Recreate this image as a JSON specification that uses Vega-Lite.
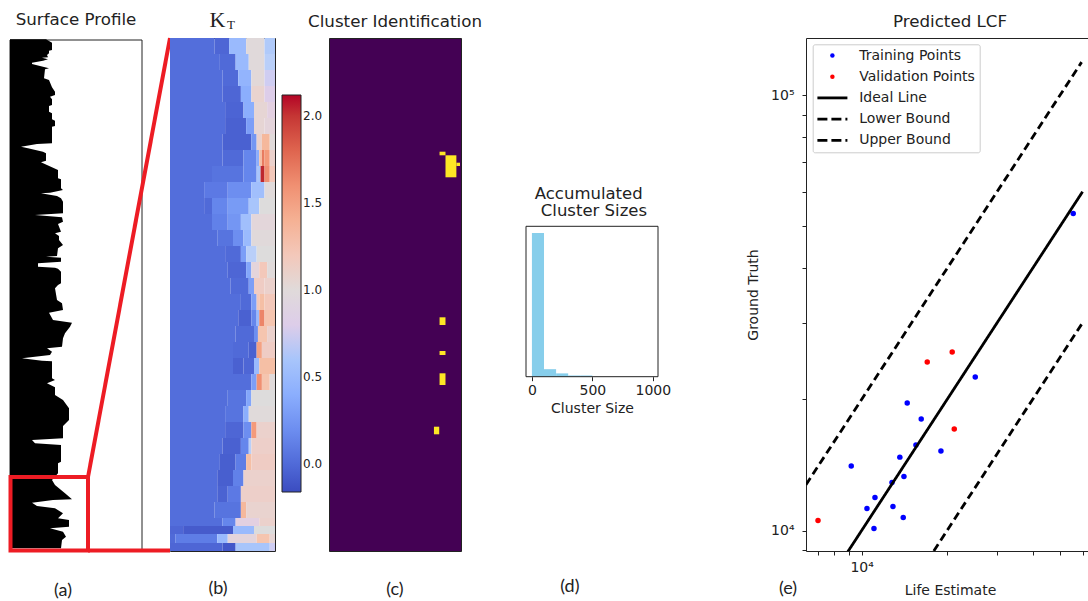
{"$schema":"https://vega.github.io/schema/vega-lite/v6.json","background":"white","padding":{"left":8,"top":8,"right":0,"bottom":1},"spacing":0,"bounds":"flush",
"config":{"view":{"stroke":"#222"},"title":{"font":"DejaVu Sans","fontSize":16.7,"fontWeight":"normal","color":"#222","anchor":"middle","offset":7},"axis":{"labelFont":"DejaVu Sans","labelFontSize":14,"titleFont":"DejaVu Sans","titleFontSize":14,"titleFontWeight":"normal","labelColor":"#222","titleColor":"#222","domainColor":"#222","tickColor":"#222","grid":false},"legend":{"labelFont":"DejaVu Sans","labelColor":"#222"}},
"hconcat":[
{"title":"Surface Profile","width":132,"height":513,"view":{"stroke":null},
"encoding":{"x":{"field":"x","type":"quantitative","scale":{"domain":[0,132],"nice":false},"axis":null},"y":{"field":"y","type":"quantitative","scale":{"domain":[513,0],"nice":false},"axis":null}},
"layer":[
{"data":{"values":[{"x":0,"x2":132,"y":2,"y2":512}]},"mark":{"type":"rect","filled":false,"stroke":"#222","strokeWidth":1},"encoding":{"x2":{"field":"x2"},"y2":{"field":"y2"}}},
{"data":{"values":[{"y":1.3,"x":36},{"y":4.7,"x":42},{"y":12,"x":42},{"y":12.7,"x":39},{"y":15.3,"x":39},{"y":17,"x":37},{"y":19.3,"x":38},{"y":19.7,"x":32},{"y":21.3,"x":38},{"y":22.7,"x":33},{"y":24.7,"x":22},{"y":26,"x":22},{"y":30.3,"x":39},{"y":31.3,"x":35},{"y":40.3,"x":34},{"y":42,"x":39},{"y":49.3,"x":42},{"y":53.7,"x":45},{"y":57,"x":45},{"y":58.7,"x":40},{"y":61.3,"x":42},{"y":67,"x":42},{"y":68,"x":39},{"y":73.7,"x":39},{"y":75.3,"x":42},{"y":81.3,"x":42},{"y":82.7,"x":45},{"y":88,"x":45},{"y":88.7,"x":42},{"y":105.3,"x":42},{"y":106,"x":27},{"y":108.7,"x":11},{"y":110.3,"x":18},{"y":113.7,"x":33},{"y":115.3,"x":36},{"y":122.7,"x":36},{"y":124.3,"x":31},{"y":127,"x":37},{"y":132,"x":48},{"y":140.3,"x":48},{"y":141.3,"x":51},{"y":150.3,"x":51},{"y":152,"x":53},{"y":154.7,"x":40},{"y":155.3,"x":31},{"y":158,"x":47},{"y":160.3,"x":51},{"y":163.7,"x":53},{"y":175.3,"x":53},{"y":177,"x":25},{"y":179.3,"x":52},{"y":183.7,"x":53},{"y":186,"x":48},{"y":193.7,"x":51},{"y":195.3,"x":45},{"y":198,"x":49},{"y":202,"x":49},{"y":207,"x":53},{"y":210.3,"x":48},{"y":218,"x":47},{"y":218.7,"x":36},{"y":219.7,"x":51},{"y":223.7,"x":51},{"y":225.3,"x":28},{"y":228.7,"x":28},{"y":229.7,"x":45},{"y":230.7,"x":48},{"y":233.7,"x":51},{"y":245.3,"x":51},{"y":247,"x":48},{"y":250.3,"x":45},{"y":262,"x":47},{"y":265.3,"x":52},{"y":272,"x":53},{"y":274.7,"x":39},{"y":282,"x":43},{"y":284.7,"x":62},{"y":288.7,"x":60},{"y":295.3,"x":55},{"y":300.3,"x":53},{"y":308.7,"x":52},{"y":310.3,"x":37},{"y":313.7,"x":42},{"y":317,"x":40},{"y":320.3,"x":12},{"y":322.7,"x":32},{"y":323.3,"x":42},{"y":340.3,"x":42},{"y":342,"x":45},{"y":345.3,"x":37},{"y":349.3,"x":45},{"y":357,"x":45},{"y":362,"x":53},{"y":370.3,"x":59},{"y":382,"x":59},{"y":388,"x":53},{"y":400.3,"x":53},{"y":402,"x":22},{"y":405.3,"x":25},{"y":407,"x":51},{"y":423.7,"x":51},{"y":425.3,"x":48},{"y":435.3,"x":48},{"y":442,"x":42},{"y":447,"x":45},{"y":455.3,"x":55},{"y":461.3,"x":62},{"y":462,"x":43},{"y":464.7,"x":22},{"y":468,"x":27},{"y":470.3,"x":45},{"y":475.3,"x":53},{"y":480.3,"x":48},{"y":482,"x":59},{"y":488.7,"x":59},{"y":490.3,"x":40},{"y":493.7,"x":53},{"y":498.7,"x":56},{"y":502,"x":52},{"y":510.3,"x":51}]},"mark":{"type":"area","orient":"horizontal","color":"black"},"encoding":{"x2":{"datum":0}}},
{"data":{"values":[{"x":0.5,"x2":78,"y":439,"y2":512.5}]},"mark":{"type":"rect","filled":false,"stroke":"#ed1c24","strokeWidth":4},"encoding":{"x2":{"field":"x2"},"y2":{"field":"y2"}}},
{"data":{"values":[{"x":78,"x2":160,"y":439,"y2":0},{"x":78,"x2":160,"y":512.5,"y2":512.5}]},"mark":{"type":"rule","stroke":"#ed1c24","strokeWidth":4},"encoding":{"x2":{"field":"x2"},"y2":{"field":"y2"}}},
{"data":{"values":[{"x":53,"y":553,"t":"(a)"}]},"mark":{"type":"text","font":"Lato","fontSize":18,"color":"#222","baseline":"middle"},"encoding":{"text":{"field":"t"}}}
]},
{"width":28,"height":513,"view":{"stroke":null},"data":{"values":[{"gap":1}]},"mark":{"type":"point","opacity":0},"encoding":{}},
{"width":105,"height":513,
"encoding":{"x":{"field":"x","type":"quantitative","scale":{"domain":[0,40],"nice":false},"axis":null},"y":{"field":"y","type":"quantitative","scale":{"domain":[513,0],"nice":false},"axis":null}},
"layer":[
{"data":{"values":[
{"x":0,"x2":17,"y":0,"y2":16,"v":0.02},{"x":17,"x2":22.5,"y":0,"y2":16,"v":-0.02},{"x":22.5,"x2":29,"y":0,"y2":16,"v":0.5},{"x":29,"x2":36,"y":0,"y2":16,"v":0.95},{"x":36,"x2":40,"y":0,"y2":16,"v":0.65},
{"x":0,"x2":19,"y":16,"y2":32,"v":0.02},{"x":19,"x2":25,"y":16,"y2":32,"v":0},{"x":25,"x2":30,"y":16,"y2":32,"v":0.5},{"x":30,"x2":36,"y":16,"y2":32,"v":0.95},{"x":36,"x2":40,"y":16,"y2":32,"v":0.7},
{"x":0,"x2":20,"y":32,"y2":48,"v":0.02},{"x":20,"x2":26,"y":32,"y2":48,"v":0},{"x":26,"x2":31,"y":32,"y2":48,"v":0.45},{"x":31,"x2":36,"y":32,"y2":48,"v":1.02},{"x":36,"x2":40,"y":32,"y2":48,"v":0.75},
{"x":0,"x2":20,"y":48,"y2":64,"v":0.02},{"x":20,"x2":27,"y":48,"y2":64,"v":-0.02},{"x":27,"x2":31,"y":48,"y2":64,"v":0.4},{"x":31,"x2":36,"y":48,"y2":64,"v":1.08},{"x":36,"x2":40,"y":48,"y2":64,"v":0.8},
{"x":0,"x2":21,"y":64,"y2":80,"v":0.02},{"x":21,"x2":28,"y":64,"y2":80,"v":-0.03},{"x":28,"x2":32,"y":64,"y2":80,"v":0.4},{"x":32,"x2":37,"y":64,"y2":80,"v":1.05},{"x":37,"x2":40,"y":64,"y2":80,"v":0.85},
{"x":0,"x2":21,"y":80,"y2":96,"v":0.02},{"x":21,"x2":29,"y":80,"y2":96,"v":-0.05},{"x":29,"x2":32,"y":80,"y2":96,"v":0.3},{"x":32,"x2":36,"y":80,"y2":96,"v":1.05},{"x":36,"x2":40,"y":80,"y2":96,"v":0.9},
{"x":0,"x2":20,"y":96,"y2":112,"v":0.02},{"x":20,"x2":31,"y":96,"y2":112,"v":-0.05},{"x":31,"x2":33,"y":96,"y2":112,"v":0.25},{"x":33,"x2":35,"y":96,"y2":112,"v":1.1},{"x":35,"x2":38,"y":96,"y2":112,"v":1.35},{"x":38,"x2":40,"y":96,"y2":112,"v":1},
{"x":0,"x2":20,"y":112,"y2":128,"v":0.02},{"x":20,"x2":28,"y":112,"y2":128,"v":0},{"x":28,"x2":33,"y":112,"y2":128,"v":0.15},{"x":33,"x2":34,"y":112,"y2":128,"v":0.4},{"x":34,"x2":35,"y":112,"y2":128,"v":1.3},{"x":35,"x2":36,"y":112,"y2":128,"v":1.7},{"x":36,"x2":38,"y":112,"y2":128,"v":1.55},{"x":38,"x2":40,"y":112,"y2":128,"v":1.1},
{"x":0,"x2":16,"y":128,"y2":144,"v":0.02},{"x":16,"x2":28,"y":128,"y2":144,"v":0.05},{"x":28,"x2":33,"y":128,"y2":144,"v":0.15},{"x":33,"x2":34.5,"y":128,"y2":144,"v":0.6},{"x":34.5,"x2":36,"y":128,"y2":144,"v":2.05},{"x":36,"x2":38,"y":128,"y2":144,"v":1.6},{"x":38,"x2":40,"y":128,"y2":144,"v":1.2},
{"x":0,"x2":13,"y":144,"y2":160,"v":0.02},{"x":13,"x2":22,"y":144,"y2":160,"v":0.08},{"x":22,"x2":31,"y":144,"y2":160,"v":0.2},{"x":31,"x2":36,"y":144,"y2":160,"v":0.55},{"x":36,"x2":40,"y":144,"y2":160,"v":1},
{"x":0,"x2":13,"y":160,"y2":176,"v":0.02},{"x":13,"x2":16,"y":160,"y2":176,"v":0},{"x":16,"x2":22,"y":160,"y2":176,"v":0.15},{"x":22,"x2":30,"y":160,"y2":176,"v":0.28},{"x":30,"x2":34,"y":160,"y2":176,"v":0.6},{"x":34,"x2":40,"y":160,"y2":176,"v":0.98},
{"x":0,"x2":16,"y":176,"y2":192,"v":0.02},{"x":16,"x2":22,"y":176,"y2":192,"v":0.12},{"x":22,"x2":27,"y":176,"y2":192,"v":0.25},{"x":27,"x2":31,"y":176,"y2":192,"v":0.55},{"x":31,"x2":40,"y":176,"y2":192,"v":0.92},
{"x":0,"x2":18,"y":192,"y2":208,"v":0.02},{"x":18,"x2":24,"y":192,"y2":208,"v":0.05},{"x":24,"x2":28,"y":192,"y2":208,"v":0.2},{"x":28,"x2":31,"y":192,"y2":208,"v":0.5},{"x":31,"x2":40,"y":192,"y2":208,"v":0.95},
{"x":0,"x2":21,"y":208,"y2":224,"v":0.02},{"x":21,"x2":27,"y":208,"y2":224,"v":0},{"x":27,"x2":29,"y":208,"y2":224,"v":0.3},{"x":29,"x2":33,"y":208,"y2":224,"v":0.7},{"x":33,"x2":40,"y":208,"y2":224,"v":0.98},
{"x":0,"x2":22,"y":224,"y2":240,"v":0.02},{"x":22,"x2":29,"y":224,"y2":240,"v":-0.02},{"x":29,"x2":31,"y":224,"y2":240,"v":0.35},{"x":31,"x2":34,"y":224,"y2":240,"v":0.9},{"x":34,"x2":37,"y":224,"y2":240,"v":1.2},{"x":37,"x2":40,"y":224,"y2":240,"v":1},
{"x":0,"x2":23,"y":240,"y2":256,"v":0.02},{"x":23,"x2":30,"y":240,"y2":256,"v":0},{"x":30,"x2":32,"y":240,"y2":256,"v":0.3},{"x":32,"x2":36,"y":240,"y2":256,"v":1.15},{"x":36,"x2":40,"y":240,"y2":256,"v":1.1},
{"x":0,"x2":27,"y":256,"y2":272,"v":0.02},{"x":27,"x2":31,"y":256,"y2":272,"v":0},{"x":31,"x2":33,"y":256,"y2":272,"v":0.3},{"x":33,"x2":34,"y":256,"y2":272,"v":1.2},{"x":34,"x2":36,"y":256,"y2":272,"v":1.3},{"x":36,"x2":40,"y":256,"y2":272,"v":1.2},
{"x":0,"x2":26,"y":272,"y2":288,"v":0.02},{"x":26,"x2":31,"y":272,"y2":288,"v":-0.05},{"x":31,"x2":33,"y":272,"y2":288,"v":0.15},{"x":33,"x2":34,"y":272,"y2":288,"v":0.5},{"x":34,"x2":36,"y":272,"y2":288,"v":1.65},{"x":36,"x2":40,"y":272,"y2":288,"v":1.25},
{"x":0,"x2":25,"y":288,"y2":304,"v":0.02},{"x":25,"x2":32,"y":288,"y2":304,"v":0},{"x":32,"x2":33.5,"y":288,"y2":304,"v":0.2},{"x":33.5,"x2":37,"y":288,"y2":304,"v":1.25},{"x":37,"x2":40,"y":288,"y2":304,"v":1.1},
{"x":0,"x2":24,"y":304,"y2":320,"v":0.02},{"x":24,"x2":30,"y":304,"y2":320,"v":0},{"x":30,"x2":33,"y":304,"y2":320,"v":-0.05},{"x":33,"x2":35,"y":304,"y2":320,"v":1.5},{"x":35,"x2":40,"y":304,"y2":320,"v":1.15},
{"x":0,"x2":24,"y":320,"y2":336,"v":0.02},{"x":24,"x2":28,"y":320,"y2":336,"v":-0.05},{"x":28,"x2":32,"y":320,"y2":336,"v":-0.02},{"x":32,"x2":34,"y":320,"y2":336,"v":0.5},{"x":34,"x2":40,"y":320,"y2":336,"v":1.3},
{"x":0,"x2":24,"y":336,"y2":352,"v":0.02},{"x":24,"x2":31,"y":336,"y2":352,"v":0.02},{"x":31,"x2":33,"y":336,"y2":352,"v":0.3},{"x":33,"x2":35,"y":336,"y2":352,"v":1.6},{"x":35,"x2":38,"y":336,"y2":352,"v":1.25},{"x":38,"x2":40,"y":336,"y2":352,"v":1},
{"x":0,"x2":22,"y":352,"y2":368,"v":0.02},{"x":22,"x2":29,"y":352,"y2":368,"v":0.05},{"x":29,"x2":31,"y":352,"y2":368,"v":0.35},{"x":31,"x2":40,"y":352,"y2":368,"v":0.98},
{"x":0,"x2":21,"y":368,"y2":384,"v":0.02},{"x":21,"x2":28,"y":368,"y2":384,"v":0.05},{"x":28,"x2":30,"y":368,"y2":384,"v":0.4},{"x":30,"x2":40,"y":368,"y2":384,"v":1},
{"x":0,"x2":21,"y":384,"y2":400,"v":0.02},{"x":21,"x2":28,"y":384,"y2":400,"v":-0.02},{"x":28,"x2":31,"y":384,"y2":400,"v":0.2},{"x":31,"x2":33,"y":384,"y2":400,"v":1.55},{"x":33,"x2":40,"y":384,"y2":400,"v":1.1},
{"x":0,"x2":20,"y":400,"y2":416,"v":0.02},{"x":20,"x2":27,"y":400,"y2":416,"v":-0.05},{"x":27,"x2":30,"y":400,"y2":416,"v":0.15},{"x":30,"x2":31,"y":400,"y2":416,"v":0.7},{"x":31,"x2":40,"y":400,"y2":416,"v":1.12},
{"x":0,"x2":19,"y":416,"y2":432,"v":0.02},{"x":19,"x2":25,"y":416,"y2":432,"v":-0.06},{"x":25,"x2":29,"y":416,"y2":432,"v":0.1},{"x":29,"x2":31,"y":416,"y2":432,"v":1.3},{"x":31,"x2":40,"y":416,"y2":432,"v":1.15},
{"x":0,"x2":18,"y":432,"y2":448,"v":0.02},{"x":18,"x2":24,"y":432,"y2":448,"v":-0.06},{"x":24,"x2":28,"y":432,"y2":448,"v":0.12},{"x":28,"x2":40,"y":432,"y2":448,"v":1.1},
{"x":0,"x2":18,"y":448,"y2":464,"v":0.02},{"x":18,"x2":22,"y":448,"y2":464,"v":-0.04},{"x":22,"x2":27,"y":448,"y2":464,"v":0.08},{"x":27,"x2":40,"y":448,"y2":464,"v":1.12},
{"x":0,"x2":17,"y":464,"y2":480,"v":0.02},{"x":17,"x2":27,"y":464,"y2":480,"v":0.05},{"x":27,"x2":29,"y":464,"y2":480,"v":1.35},{"x":29,"x2":40,"y":464,"y2":480,"v":1.08},
{"x":0,"x2":20,"y":480,"y2":488,"v":0.02},{"x":20,"x2":25,"y":480,"y2":488,"v":0.15},{"x":25,"x2":34,"y":480,"y2":488,"v":0.85},{"x":34,"x2":40,"y":480,"y2":488,"v":1.1},
{"x":0,"x2":5,"y":488,"y2":496,"v":-0.02},{"x":5,"x2":24,"y":488,"y2":496,"v":-0.08},{"x":24,"x2":32,"y":488,"y2":496,"v":0.5},{"x":32,"x2":40,"y":488,"y2":496,"v":0.98},
{"x":0,"x2":2,"y":496,"y2":505,"v":0},{"x":2,"x2":18,"y":496,"y2":505,"v":0.1},{"x":18,"x2":22,"y":496,"y2":505,"v":0.5},{"x":22,"x2":33,"y":496,"y2":505,"v":0.9},{"x":33,"x2":38,"y":496,"y2":505,"v":1.25},{"x":38,"x2":40,"y":496,"y2":505,"v":1.05},
{"x":0,"x2":20,"y":505,"y2":513,"v":-0.02},{"x":20,"x2":25,"y":505,"y2":513,"v":-0.1},{"x":25,"x2":38,"y":505,"y2":513,"v":0.6},{"x":38,"x2":40,"y":505,"y2":513,"v":0.75}
]},"mark":{"type":"rect"},"encoding":{"x2":{"field":"x2"},"y2":{"field":"y2"},"color":{"field":"v","type":"quantitative","scale":{"domain":[-0.16,0.125,0.41,0.695,0.98,1.265,1.55,1.835,2.12],"range":["#3b4cc0","#6282ea","#8db0fe","#b7cff9","#dddcdc","#f5c4ac","#f49a7b","#dc5d4a","#b40426"]},"legend":{"orient":"none","legendX":112,"legendY":57,"title":null,"type":"gradient","direction":"vertical","gradientLength":397,"gradientThickness":19,"gradientStrokeColor":"#222","gradientStrokeWidth":1,"values":[0,0.5,1,1.5,2],"format":".1f","labelFontSize":12,"labelOverlap":false}}}},
{"data":{"values":[{"x":18.1,"y":-11,"t":"K"}]},"mark":{"type":"text","font":"Liberation Serif","fontSize":22,"color":"#222","baseline":"alphabetic"},"encoding":{"text":{"field":"t"}}},
{"data":{"values":[{"x":23.2,"y":-9,"t":"T"}]},"mark":{"type":"text","font":"Liberation Serif","fontSize":13,"color":"#222","baseline":"alphabetic"},"encoding":{"text":{"field":"t"}}},
{"data":{"values":[{"x":18.3,"y":551,"t":"(b)"}]},"mark":{"type":"text","font":"Lato","fontSize":18,"color":"#222","baseline":"middle"},"encoding":{"text":{"field":"t"}}}
]},
{"width":54,"height":513,"view":{"stroke":null},"data":{"values":[{"gap":1}]},"mark":{"type":"point","opacity":0},"encoding":{}},
{"title":"Cluster Identification","width":132,"height":513,"view":{"fill":"#440154","stroke":"#222"},
"encoding":{"x":{"field":"x","type":"quantitative","scale":{"domain":[0,40],"nice":false},"axis":null},"y":{"field":"y","type":"quantitative","scale":{"domain":[513,0],"nice":false},"axis":null}},
"layer":[
{"data":{"values":[{"x":33.5,"x2":35.3,"y":113.7,"y2":117.3},{"x":35.3,"x2":38.6,"y":117.3,"y2":139.3},{"x":38.6,"x2":39.7,"y":124.7,"y2":128},{"x":33.5,"x2":35.3,"y":279.3,"y2":287},{"x":33.5,"x2":35.3,"y":313,"y2":317},{"x":33.5,"x2":35.3,"y":335.3,"y2":347},{"x":31.8,"x2":33.4,"y":388.7,"y2":396.3}]},"mark":{"type":"rect","color":"#fde725"},"encoding":{"x2":{"field":"x2"},"y2":{"field":"y2"}}},
{"data":{"values":[{"x":20,"y":552,"t":"(c)"}]},"mark":{"type":"text","font":"Lato","fontSize":18,"color":"#222","baseline":"middle"},"encoding":{"text":{"field":"t"}}}
]},
{"width":65,"height":513,"view":{"stroke":null},"data":{"values":[{"gap":1}]},"mark":{"type":"point","opacity":0},"encoding":{}},
{"width":132,"height":513,"view":{"stroke":null},
"encoding":{"x":{"field":"x","type":"quantitative","scale":{"domain":[-49,1043],"nice":false},"axis":{"values":[0,500,1000],"format":"d","title":"Cluster Size","offset":-174.3,"domain":false,"tickSize":4,"labelPadding":3,"titlePadding":4,"labelFlush":false}},"y":{"field":"y","type":"quantitative","scale":{"domain":[0,1000],"range":[338.7,188.3],"nice":false},"axis":null}},
"layer":[
{"data":{"values":[{"x":0,"x2":100,"y":955,"y2":0},{"x":100,"x2":200,"y":50,"y2":0},{"x":200,"x2":300,"y":22,"y2":0},{"x":300,"x2":400,"y":8,"y2":0},{"x":400,"x2":500,"y":8,"y2":0}]},"mark":{"type":"rect","color":"#87ceeb"},"encoding":{"x2":{"field":"x2"},"y2":{"field":"y2"}}},
{"data":{"values":[{"x":-49,"x2":1043,"y":0,"y2":1000}]},"mark":{"type":"rect","filled":false,"stroke":"#222","strokeWidth":1},"encoding":{"x2":{"field":"x2"},"y2":{"field":"y2"}}},
{"data":{"values":[{"x":470,"y":1180,"t":"Accumulated"},{"x":513,"y":1067,"t":"Cluster Sizes"}]},"mark":{"type":"text","font":"DejaVu Sans","fontSize":16.5,"color":"#222","baseline":"alphabetic"},"encoding":{"text":{"field":"t"}}},
{"data":{"values":[{"x":314,"y":-1398,"t":"(d)"}]},"mark":{"type":"text","font":"Lato","fontSize":18,"color":"#222","baseline":"middle"},"encoding":{"text":{"field":"t"}}}
]},
{"width":148,"height":513,"view":{"stroke":null},"data":{"values":[{"gap":1}]},"mark":{"type":"point","opacity":0},"encoding":{}},
{"title":"Predicted LCF","width":288,"height":513,
"encoding":{"x":{"field":"x","type":"quantitative","scale":{"type":"log","domain":[6368,65800],"nice":false},"axis":{"values":[7000,8000,9000,10000,20000,30000,40000,50000,60000],"labelExpr":"datum.value==10000?'10⁴':''","title":"Life Estimate","domain":false,"tickSize":4,"labelPadding":5,"titlePadding":9,"labelOverlap":false,"labelFlush":false}},"y":{"field":"y","type":"quantitative","scale":{"type":"log","domain":[8973,135200],"nice":false},"axis":{"values":[9000,10000,20000,30000,40000,50000,60000,70000,80000,90000,100000],"labelExpr":"datum.value==10000?'10⁴':(datum.value==100000?'10⁵':'')","title":"Ground Truth","domain":false,"tickSize":4,"labelPadding":8,"titlePadding":10,"labelOverlap":false,"labelFlush":false}}},
"layer":[
{"data":{"values":[{"s":"Training Points","x":55600,"y":53460},{"s":"Training Points","x":25120,"y":22520},{"s":"Training Points","x":14470,"y":19620},{"s":"Training Points","x":16210,"y":18030},{"s":"Training Points","x":15530,"y":15710},{"s":"Training Points","x":19020,"y":15220},{"s":"Training Points","x":13630,"y":14740},{"s":"Training Points","x":9190,"y":14060},{"s":"Training Points","x":14090,"y":13310},{"s":"Training Points","x":12790,"y":12890},{"s":"Training Points","x":11140,"y":11910},{"s":"Training Points","x":10440,"y":11230},{"s":"Training Points","x":12890,"y":11350},{"s":"Training Points","x":14010,"y":10710},{"s":"Training Points","x":11050,"y":10110},{"s":"Validation Points","x":17020,"y":24370},{"s":"Validation Points","x":20840,"y":25700},{"s":"Validation Points","x":21190,"y":17100},{"s":"Validation Points","x":7020,"y":10540}]},"mark":{"type":"point","filled":true,"size":30,"opacity":1},
"encoding":{"color":{"field":"s","type":"nominal","scale":{"domain":["Training Points","Validation Points","Ideal Line","Lower Bound","Upper Bound"],"range":["#0000ff","#ff0000","#000000","#000000","#000000"]},
"legend":{"orient":"none","legendX":6.7,"legendY":6.3,"title":null,"fillColor":"white","strokeColor":"#ccc","cornerRadius":2,"padding":4.2,"symbolSize":120,"rowPadding":7.2,"symbolOffset":8.5,"labelOffset":19.8,"labelFontSize":14,"symbolType":"circle","encoding":{"symbols":{"shape":{"value":{"expr":"datum.value=='Training Points'||datum.value=='Validation Points'?'circle':'stroke'"}},"size":{"value":{"expr":"datum.value=='Training Points'||datum.value=='Validation Points'?20:900"}},"strokeDash":{"value":{"expr":"datum.value=='Lower Bound'||datum.value=='Upper Bound'?[10,4]:[]"}},"strokeWidth":{"value":{"expr":"datum.value=='Training Points'||datum.value=='Validation Points'?0:2.8"}},"stroke":{"value":"#000000"},"opacity":{"value":1},"fill":{"value":{"expr":"datum.value=='Training Points'?'#0000ff':(datum.value=='Validation Points'?'#ff0000':'transparent')"}}}}}}}},
{"data":{"values":[{"s":"Ideal Line","x":8900,"y":8900},{"s":"Ideal Line","x":60000,"y":60000},{"s":"Upper Bound","x":6368,"y":12736},{"s":"Upper Bound","x":59500,"y":119000},{"s":"Lower Bound","x":17950,"y":8975},{"s":"Lower Bound","x":60000,"y":30000}]},"mark":{"type":"line","strokeWidth":2.8,"clip":true},
"encoding":{"color":{"field":"s","type":"nominal"},"strokeDash":{"field":"s","type":"nominal","scale":{"domain":["Ideal Line","Lower Bound","Upper Bound"],"range":[[1,0],[8,4.5],[8,4.5]]},"legend":null}}},
{"data":{"values":[{"x":5503,"y":7357,"t":"(e)"}]},"mark":{"type":"text","font":"Lato","fontSize":18,"color":"#222","baseline":"middle"},"encoding":{"text":{"field":"t"}}}
]}
]}
